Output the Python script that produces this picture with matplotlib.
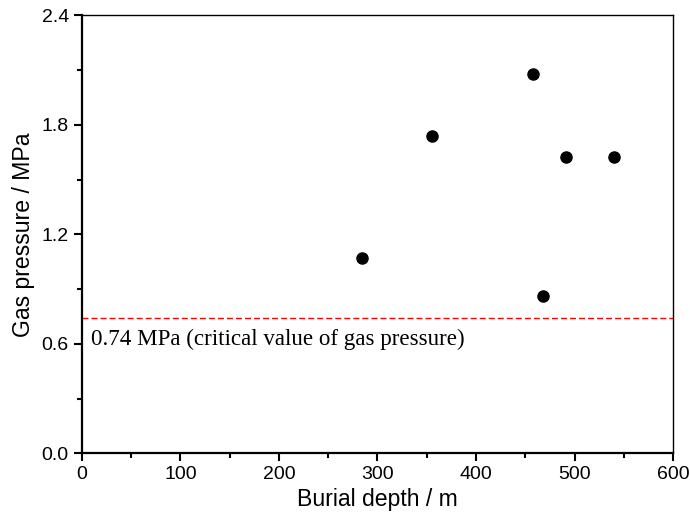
import matplotlib
matplotlib.use("Agg")
import matplotlib.pyplot as plt
from matplotlib.ticker import MultipleLocator

# data
depth = [284, 355, 458, 468, 491, 540]
pressure = [1.07, 1.74, 2.08, 0.86, 1.625, 1.625]
critical = 0.74
critical_label = "0.74 MPa (critical value of gas pressure)"

plt.rcParams["font.family"] = ["Liberation Sans", "DejaVu Sans"]

fig = plt.figure(figsize=(6.9, 5.2), dpi=100)
ax = fig.add_axes([0.1188, 0.1283, 0.8566, 0.8423])

ax.scatter(depth, pressure, s=64, color="black", zorder=3)
ax.axhline(critical, color="red", lw=1.0, dashes=(4.3, 2.2))
ax.text(9, 0.593, critical_label, family=["Liberation Serif", "DejaVu Serif"],
        fontsize=16.6, va="baseline", ha="left")

ax.set_xlim(0, 600)
ax.set_ylim(0, 2.4)
ax.xaxis.set_major_locator(MultipleLocator(100))
ax.xaxis.set_minor_locator(MultipleLocator(50))
ax.yaxis.set_major_locator(MultipleLocator(0.6))
ax.yaxis.set_minor_locator(MultipleLocator(0.3))
ax.yaxis.set_major_formatter(plt.FormatStrFormatter("%.1f"))

ax.tick_params(which="major", direction="out", length=6, width=1.5, labelsize=14)
ax.tick_params(which="minor", direction="out", length=3.5, width=1.5)

for side in ["left", "bottom"]:
    ax.spines[side].set_linewidth(1.6)
for side in ["top", "right"]:
    ax.spines[side].set_linewidth(1.0)

ax.set_xlabel("Burial depth / m", fontsize=16.6, labelpad=3)
ax.set_ylabel("Gas pressure / MPa", fontsize=16.6, labelpad=5)

fig.savefig("out.png", dpi=100)
